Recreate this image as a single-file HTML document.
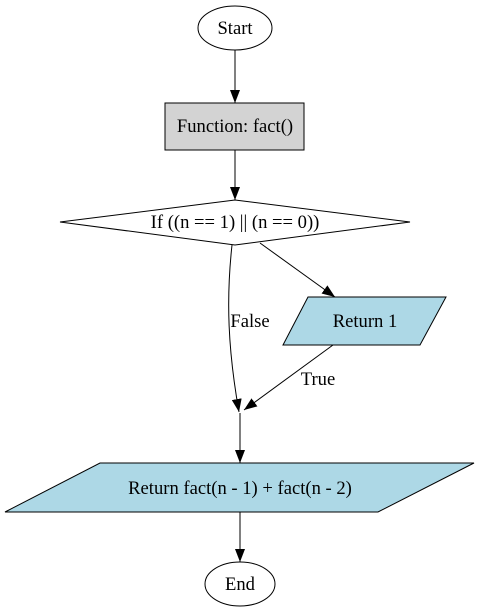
<!DOCTYPE html>
<html><head><meta charset="utf-8"><style>
html,body{margin:0;padding:0;background:#fff;}
svg{display:block;}
text{font-family:"Liberation Serif",serif;font-size:18.6px;fill:#000;}
</style></head><body>
<svg width="481" height="614" viewBox="0 0 481 614">
<defs><marker id="ah" markerWidth="13" markerHeight="10" refX="13" refY="5" orient="auto" markerUnits="userSpaceOnUse"><path d="M0,0 L13,5 L0,10 z" fill="#000"/></marker></defs>
<g>
<ellipse cx="235" cy="28" rx="37" ry="22" fill="#fff" stroke="#000"/>
<text x="235" y="34" text-anchor="middle">Start</text></g>
<line x1="235" y1="50" x2="235" y2="103" stroke="#000" marker-end="url(#ah)"/>
<g>
<rect x="165" y="103" width="139" height="47" fill="#d3d3d3" stroke="#000"/>
<text x="235" y="132" text-anchor="middle">Function: fact()</text></g>
<line x1="235" y1="150" x2="235" y2="200" stroke="#000" marker-end="url(#ah)"/>
<g>
<polygon points="235,200 410,222 235,245 60,222" fill="#fff" stroke="#000"/>
<text x="235" y="228" text-anchor="middle">If ((n == 1) || (n == 0))</text></g>
<line x1="260" y1="243" x2="335" y2="297" stroke="#000" marker-end="url(#ah)"/>
<g>
<polygon points="308,297 446,297 420,345 283,345" fill="#add8e6" stroke="#000"/>
<text x="365" y="327" text-anchor="middle">Return 1</text></g>
<path d="M232,245 C226,300 228,350 239,412" fill="none" stroke="#000" marker-end="url(#ah)"/>
<text x="250" y="327" text-anchor="middle">False</text>
<line x1="333" y1="345" x2="244" y2="410" stroke="#000" marker-end="url(#ah)"/>
<text x="318" y="385" text-anchor="middle">True</text>
<line x1="240" y1="413" x2="240" y2="463" stroke="#000" marker-end="url(#ah)"/>
<g>
<polygon points="100,463 474,463 378,512 5,512" fill="#add8e6" stroke="#000"/>
<text x="240" y="494" text-anchor="middle">Return fact(n - 1) + fact(n - 2)</text></g>
<line x1="240" y1="512" x2="240" y2="562" stroke="#000" marker-end="url(#ah)"/>
<g>
<ellipse cx="240" cy="584" rx="35" ry="22" fill="#fff" stroke="#000"/>
<text x="240" y="590" text-anchor="middle">End</text></g>
</svg>
</body></html>
